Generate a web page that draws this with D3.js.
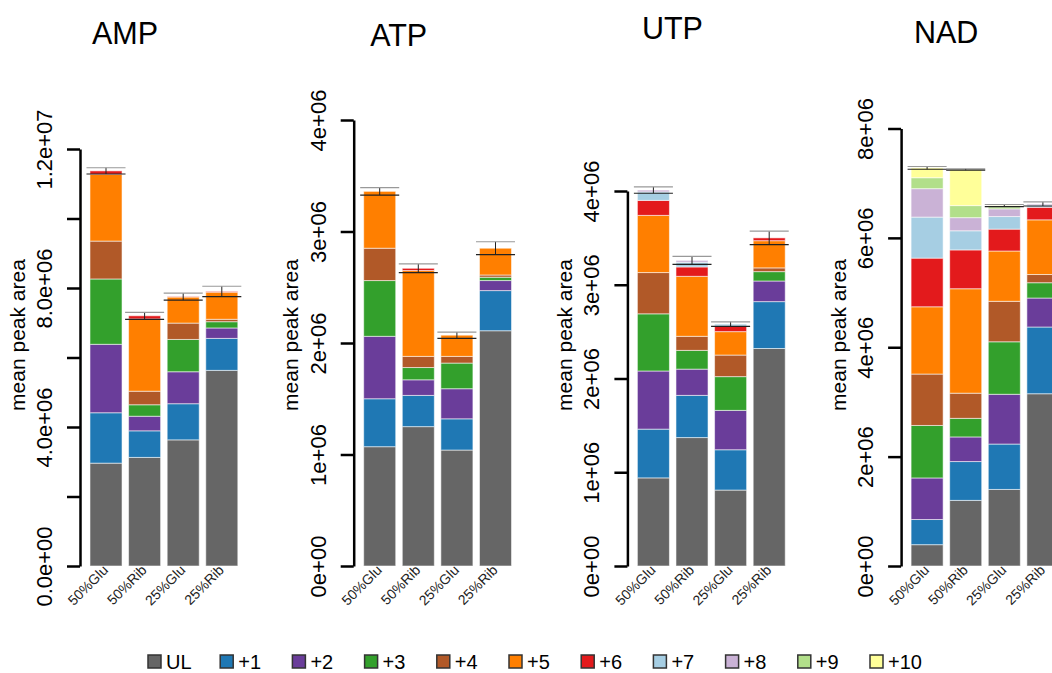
<!DOCTYPE html>
<html>
<head>
<meta charset="utf-8">
<script src="https://cdn.jsdelivr.net/npm/d3@7"></script>
<style>
  body { margin: 0; background: #fff; }
  text { font-family: "Liberation Sans", Arial, sans-serif; }
</style>
</head>
<body>
<script>
// data, values are mean peak areas
var samples = ["50%Glu", "50%Rib", "25%Glu", "25%Rib"];
var isotopologues = ["UL", "+1", "+2", "+3", "+4", "+5", "+6", "+7", "+8", "+9", "+10"];
var isoColors = ["#666666", "#1F78B4", "#6A3D9A", "#33A02C", "#B15928", "#FF7F00",
                 "#E31A1C", "#A6CEE3", "#CAB2D6", "#B2DF8A", "#FFFF99"];
var metabolites = ["AMP", "ATP", "UTP", "NAD"];

// one row per sample, one value per isotopologue (UL .. +10)
var ampValues = [
  [2.96e6, 1.45e6, 1.97e6, 1.88e6, 1.09e6, 1.92e6, 0.10e6, 0, 0, 0, 0],
  [3.125e6, 0.765e6, 0.42e6, 0.33e6, 0.39e6, 2.08e6, 0.09e6, 0, 0, 0, 0],
  [3.63e6, 1.04e6, 0.92e6, 0.93e6, 0.47e6, 0.75e6, 0.01e6, 0, 0, 0, 0],
  [5.63e6, 0.92e6, 0.30e6, 0.18e6, 0.07e6, 0.78e6, 0.02e6, 0, 0, 0, 0]
];
var atpValues = [
  [1.07e6, 0.43e6, 0.56e6, 0.50e6, 0.29e6, 0.51e6, 0, 0, 0, 0, 0],
  [1.25e6, 0.28e6, 0.14e6, 0.11e6, 0.10e6, 0.77e6, 0.02e6, 0, 0, 0, 0],
  [1.04e6, 0.28e6, 0.27e6, 0.23e6, 0.06e6, 0.19e6, 0, 0, 0, 0, 0],
  [2.11e6, 0.36e6, 0.09e6, 0.03e6, 0.02e6, 0.24e6, 0, 0, 0, 0, 0]
];
var utpValues = [
  [0.94e6, 0.52e6, 0.62e6, 0.61e6, 0.44e6, 0.61e6, 0.16e6, 0.09e6, 0.02e6, 0, 0],
  [1.37e6, 0.45e6, 0.28e6, 0.20e6, 0.15e6, 0.64e6, 0.10e6, 0.05e6, 0.02e6, 0, 0],
  [0.81e6, 0.43e6, 0.42e6, 0.36e6, 0.23e6, 0.25e6, 0.06e6, 0.02e6, 0, 0, 0],
  [2.32e6, 0.50e6, 0.22e6, 0.10e6, 0.04e6, 0.29e6, 0.03e6, 0, 0, 0, 0]
];
var nadValues = [
  [0.39e6, 0.46e6, 0.76e6, 0.96e6, 0.94e6, 1.23e6, 0.89e6, 0.75e6, 0.52e6, 0.20e6, 0.18e6],
  [1.20e6, 0.71e6, 0.45e6, 0.34e6, 0.46e6, 1.91e6, 0.71e6, 0.35e6, 0.24e6, 0.22e6, 0.66e6],
  [1.40e6, 0.83e6, 0.91e6, 0.96e6, 0.74e6, 0.92e6, 0.40e6, 0.23e6, 0.14e6, 0.04e6, 0.02e6],
  [3.15e6, 1.22e6, 0.53e6, 0.28e6, 0.15e6, 1.00e6, 0.23e6, 0.04e6, 0.02e6, 0, 0]
];

// standard errors of the totals, per sample
var ampErrors = [0.09e6, 0.10e6, 0.10e6, 0.15e6];
var atpErrors = [0.033e6, 0.039e6, 0.028e6, 0.058e6];
var utpErrors = [0.034e6, 0.043e6, 0.025e6, 0.071e6];
var nadErrors = [0.025e6, 0.012e6, 0.02e6, 0.037e6];

// y ticks, and which of them carry a label
var ampTicks = [0, 2e6, 4e6, 6e6, 8e6, 10e6, 12e6];
var ampTickLabels = ["0.0e+00", "", "4.0e+06", "", "8.0e+06", "", "1.2e+07"];
var atpTicks = [0, 1e6, 2e6, 3e6, 4e6];
var atpTickLabels = ["0e+00", "1e+06", "2e+06", "3e+06", "4e+06"];
var utpTicks = [0, 1e6, 2e6, 3e6, 4e6];
var utpTickLabels = ["0e+00", "1e+06", "2e+06", "3e+06", "4e+06"];
var nadTicks = [0, 2e6, 4e6, 6e6, 8e6];
var nadTickLabels = ["0e+00", "2e+06", "4e+06", "6e+06", "8e+06"];

// layout
var width = 1052, height = 673;
var baseY = 566;
var panelStep = 273.7, firstAxisX = 80;
var topTickY = [149, 120, 191, 128.5];
var titleY = [44, 46, 39, 43];

var panels = [
  {values: ampValues, errors: ampErrors, ticks: ampTicks, labels: ampTickLabels},
  {values: atpValues, errors: atpErrors, ticks: atpTicks, labels: atpTickLabels},
  {values: utpValues, errors: utpErrors, ticks: utpTicks, labels: utpTickLabels},
  {values: nadValues, errors: nadErrors, ticks: nadTicks, labels: nadTickLabels}
];

var svg = d3.select("body").append("svg")
  .attr("width", width)
  .attr("height", height);

var stack = d3.stack().keys(d3.range(isotopologues.length));

panels.forEach(function(p, i) {
  var axisX = firstAxisX + panelStep * i;
  var g = svg.append("g");

  var y = d3.scaleLinear()
    .domain([0, d3.max(p.ticks)])
    .range([baseY, topTickY[i]]);

  var x = d3.scaleBand()
    .domain(samples)
    .range([axisX + 6.7, axisX + 6.7 + 154.4])
    .paddingInner(0.17)
    .paddingOuter(0.085);

  var rows = p.values.map(function(v, j) {
    var r = {sample: samples[j]};
    v.forEach(function(val, k) { r[k] = val; });
    return r;
  });
  var series = stack(rows);

  g.selectAll("g.layer")
    .data(series)
    .enter().append("g")
    .attr("class", "layer")
    .attr("fill", function(d, k) { return isoColors[k]; })
    .selectAll("rect")
    .data(function(d) { return d; })
    .enter().append("rect")
    .filter(function(d) { return d[1] - d[0] > 0; })
    .attr("x", function(d) { return x(d.data.sample); })
    .attr("width", x.bandwidth())
    .attr("y", function(d) { return y(d[1]); })
    .attr("height", function(d) { return y(d[0]) - y(d[1]); })
    .attr("stroke", "rgba(255,255,255,0.55)")
    .attr("stroke-width", 1);

  // error bars
  var totals = p.values.map(function(v) { return d3.sum(v); });
  var err = g.selectAll("g.err")
    .data(samples)
    .enter().append("g")
    .attr("class", "err");
  err.append("line")
    .attr("x1", function(d) { return x(d) + x.bandwidth() / 2; })
    .attr("x2", function(d) { return x(d) + x.bandwidth() / 2; })
    .attr("y1", function(d, j) { return y(totals[j] + p.errors[j]); })
    .attr("y2", function(d, j) { return y(totals[j] - p.errors[j]); })
    .attr("stroke", "#222").attr("stroke-width", 1);
  err.append("line")
    .attr("x1", function(d) { return x(d) - 3.5; })
    .attr("x2", function(d) { return x(d) + x.bandwidth() + 3.5; })
    .attr("y1", function(d, j) { return y(totals[j] + p.errors[j]); })
    .attr("y2", function(d, j) { return y(totals[j] + p.errors[j]); })
    .attr("stroke", "#999").attr("stroke-width", 1.2);
  err.append("line")
    .attr("x1", function(d) { return x(d) - 3.5; })
    .attr("x2", function(d) { return x(d) + x.bandwidth() + 3.5; })
    .attr("y1", function(d, j) { return y(totals[j] - p.errors[j]); })
    .attr("y2", function(d, j) { return y(totals[j] - p.errors[j]); })
    .attr("stroke", "#222").attr("stroke-width", 1.2);

  // y axis
  var yAxis = d3.axisLeft(y)
    .tickValues(p.ticks)
    .tickSize(13)
    .tickSizeOuter(0)
    .tickFormat(function(d, k) { return p.labels[k]; });

  var axisG = g.append("g")
    .attr("transform", "translate(" + axisX + ",0)")
    .call(yAxis);
  axisG.select(".domain").attr("stroke", "#000").attr("stroke-width", 2.5);
  axisG.selectAll(".tick line").attr("stroke", "#000").attr("stroke-width", 2.5);
  axisG.selectAll(".tick text")
    .attr("transform", "rotate(-90)")
    .attr("x", 0)
    .attr("y", -28)
    .attr("dy", null)
    .attr("text-anchor", "middle")
    .attr("font-size", 22)
    .attr("font-family", "Liberation Sans, Arial, sans-serif")
    .attr("fill", "#000");

  // y title
  g.append("text")
    .attr("transform", "translate(" + (axisX - 55.5) + ",335) rotate(-90)")
    .attr("text-anchor", "middle")
    .attr("font-size", 21)
    .text("mean peak area");

  // x labels
  g.selectAll("text.xlab")
    .data(samples)
    .enter().append("text")
    .attr("class", "xlab")
    .attr("transform", function(d) {
      return "translate(" + (x(d) + x.bandwidth() / 2 + 3) + ",571) rotate(-45)";
    })
    .attr("text-anchor", "end")
    .attr("font-size", 14)
    .attr("fill", "#222")
    .text(function(d) { return d; });

  // title
  g.append("text")
    .attr("x", axisX + 45)
    .attr("y", titleY[i])
    .attr("text-anchor", "middle")
    .attr("font-size", 30.5)
    .text(metabolites[i]);
});

// legend
var legend = svg.append("g").selectAll("g")
  .data(isotopologues)
  .enter().append("g")
  .attr("transform", function(d, k) { return "translate(" + (148 + k * 72.2) + ",655)"; });
legend.append("rect")
  .attr("width", 13).attr("height", 13)
  .attr("fill", function(d, k) { return isoColors[k]; })
  .attr("stroke", "#333").attr("stroke-width", 1.5);
legend.append("text")
  .attr("x", 18).attr("y", 13.5)
  .attr("font-size", 20)
  .text(function(d) { return d; });
</script>
</body>
</html>
